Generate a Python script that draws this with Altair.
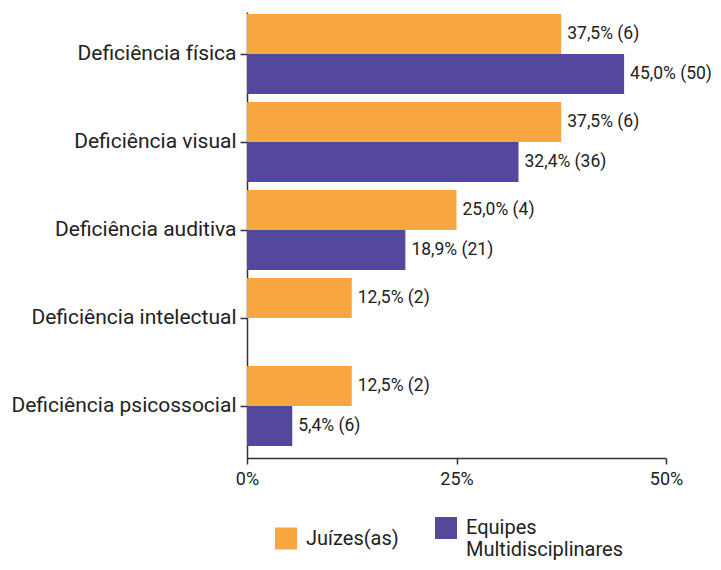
import altair as alt
import pandas as pd

categories = ["Deficiência física", "Deficiência visual", "Deficiência auditiva",
              "Deficiência intelectual", "Deficiência psicossocial"]
series = ["Juízes(as)", "Equipes|Multidisciplinares"]
juizes_pct = [37.5, 37.5, 25.0, 12.5, 12.5]
juizes_n = [6, 6, 4, 2, 2]
equipes_pct = [45.0, 32.4, 18.9, None, 5.4]
equipes_n = [50, 36, 21, None, 6]
colors = ["#F9A540", "#54489C"]

rows = []
for cat, p, n in zip(categories, juizes_pct, juizes_n):
    rows.append({"cat": cat, "serie": series[0], "pct": p,
                 "label": f"{p:.1f}".replace(".", ",") + f"% ({n})"})
for cat, p, n in zip(categories, equipes_pct, equipes_n):
    if p is None:
        continue
    rows.append({"cat": cat, "serie": series[1], "pct": p,
                 "label": f"{p:.1f}".replace(".", ",") + f"% ({n})"})
df = pd.DataFrame(rows)

FONT = "Roboto"
TXT = "#222222"

y_enc = alt.Y("cat:N", sort=categories, title=None,
              scale=alt.Scale(paddingInner=8 / 88, paddingOuter=0.0795, align=0.143),
              axis=alt.Axis(labelFont=FONT, labelFontSize=21, labelColor=TXT,
                            tickSize=7, tickColor="#333333", tickWidth=1.5,
                            domainColor="#333333", domainWidth=1.5,
                            labelPadding=4, labelLimit=300))
yoff = alt.YOffset("serie:N", sort=series, scale=alt.Scale(paddingInner=0, paddingOuter=0))
x_enc = alt.X("pct:Q", title=None,
              scale=alt.Scale(domain=[0, 50], nice=False),
              axis=alt.Axis(values=[0, 25, 50], labelExpr="datum.value + '%'",
                            labelFont=FONT, labelFontSize=18, labelColor=TXT,
                            grid=False, tickSize=6, tickColor="#333333", tickWidth=1.5,
                            domainColor="#333333", domainWidth=1.5, labelPadding=6,
                            labelFlush=False))

bars = alt.Chart(df).mark_bar(size=40).encode(
    x=x_enc, y=y_enc, yOffset=yoff,
    color=alt.Color("serie:N", sort=series,
                    scale=alt.Scale(domain=series, range=colors),
                    legend=alt.Legend(title=None, orient="none", direction="horizontal",
                                      legendX=28, legendY=505,
                                      symbolType="square", symbolSize=484,
                                      symbolStrokeWidth=0, symbolOpacity=1,
                                      labelFont=FONT, labelFontSize=20, labelColor=TXT,
                                      labelExpr="split(datum.label, '|')",
                                      labelOffset=9, columnPadding=36,
                                      labelLimit=300))
)

labels = alt.Chart(df).mark_text(align="left", baseline="middle", dx=6,
                                 font=FONT, fontSize=17.5, color=TXT).encode(
    x="pct:Q", y=alt.Y("cat:N", sort=categories), yOffset=alt.YOffset("serie:N", sort=series),
    text="label:N"
)

chart = (bars + labels).properties(
    width=419, height=446,
    autosize=alt.AutoSizeParams(type="none"),
    padding={"left": 239, "top": 4, "right": 47, "bottom": 104}
).configure_view(stroke=None)

chart.save("out.html", embed_options={"renderer": "svg", "actions": False})
